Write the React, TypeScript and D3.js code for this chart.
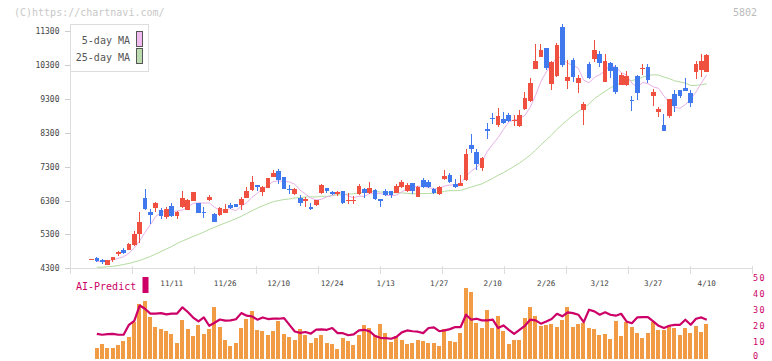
import React from 'react';
import * as d3 from 'd3';

const dates = [
  '10/20','10/21','10/22','10/23','10/24','10/27','10/28','10/29','10/30','10/31',
  '11/4','11/5','11/6','11/7','11/10','11/11','11/12','11/13','11/14','11/17','11/18','11/19','11/20','11/21','11/25','11/26','11/27','11/28',
  '12/1','12/2','12/3','12/4','12/5','12/8','12/9','12/10','12/11','12/12','12/15','12/16','12/17','12/18','12/19','12/22','12/23','12/24','12/25','12/26','12/29','12/30',
  '1/5','1/6','1/7','1/8','1/9','1/13','1/14','1/15','1/16','1/19','1/20','1/21','1/22','1/23','1/26','1/27','1/28','1/29','1/30',
  '2/2','2/3','2/4','2/5','2/6','2/9','2/10','2/12','2/13','2/16','2/17','2/18','2/19','2/20','2/24','2/25','2/26','2/27',
  '3/2','3/3','3/4','3/5','3/6','3/9','3/10','3/11','3/12','3/13','3/16','3/17','3/18','3/19','3/23','3/24','3/25','3/26','3/27','3/30','3/31',
  '4/1','4/2','4/3','4/6','4/7','4/8','4/9','4/10',
];

const opens = [4560,4610,4545,4400,4535,4730,4840,4840,4985,5310,6385,5960,6080,6020,5815,6140,5850,6110,6030,6295,6225,5970,6325,5900,5870,5930,6165,6195,6165,6385,6610,6755,6550,6670,6995,7170,6995,6640,6490,6375,6285,6110,6165,6520,6670,6550,6490,6580,6285,6305,6490,6640,6520,6610,6345,6580,6580,6520,6700,6580,6815,6405,6905,6845,6640,6490,6935,7065,6785,6730,6905,7940,7730,7260,8410,8735,8530,8705,8825,8670,8500,9000,9235,10180,10535,10800,9735,9975,11420,9825,10445,9765,8970,10325,10475,10620,9795,10355,10240,9710,9710,9265,9975,10180,10240,9385,8910,8530,8795,9440,9560,9620,9470,10090,10150,10090];
const highs = [4570,4640,4560,4545,4640,4800,4910,5045,5400,5970,6650,6060,6265,6090,6110,6225,5980,6580,6345,6560,6235,6110,6460,5930,6110,6195,6225,6205,6405,6700,7025,6770,6730,6975,7200,7230,7000,6755,6670,6460,6405,6225,6325,6785,6680,6580,6580,6590,6520,6430,6785,6670,6845,6640,6350,6640,6590,6785,6905,6815,6830,6730,6965,6905,6670,6730,7200,7110,6935,7050,7820,8260,7820,7585,8585,8880,9030,8910,8880,8825,8970,9500,9915,10915,10915,10810,10415,10945,11505,10445,10505,10015,9205,10385,11035,10710,10620,10385,10300,10060,10120,9385,10000,10325,10325,9590,9060,8850,9300,9560,9570,9915,9560,10415,10620,10620];
const lows = [4555,4480,4420,4390,4500,4670,4730,4830,4965,5045,6030,5605,5970,5765,5755,5825,5755,6080,6010,6285,5930,5795,6295,5655,5845,5920,6050,6100,6020,6375,6590,6580,6440,6660,6985,6785,6630,6490,6460,6140,6110,6020,6140,6490,6520,6460,6430,6195,6195,6195,6460,6375,6490,6315,6110,6430,6375,6510,6670,6550,6490,6395,6670,6670,6490,6460,6905,6815,6670,6720,6875,7700,7200,7170,8115,8555,8470,8555,8615,8500,8470,8970,9205,10170,10530,10150,9560,9945,10240,9590,9795,9470,8530,9885,10385,10240,9790,9915,9440,9700,9680,8940,9265,10000,9765,9090,8765,8345,8735,8910,9325,9520,9060,9885,9945,10080];
const closes = [4565,4515,4495,4535,4635,4790,4750,5015,5310,5665,6050,5880,6235,5845,6060,5845,5970,6375,6315,6550,5940,5940,6405,5675,6080,6050,6080,6110,6355,6580,6845,6700,6700,6965,7110,6905,6640,6610,6640,6225,6345,6050,6315,6755,6580,6490,6550,6225,6315,6315,6730,6520,6670,6345,6285,6460,6460,6730,6845,6755,6580,6700,6700,6700,6520,6700,7025,6845,6700,6815,7670,7820,7375,7555,8350,8705,8795,8585,8645,8680,8825,9325,9765,10415,10740,10210,10385,10890,10300,9945,9945,9915,9145,9915,10740,10355,10415,10120,9500,10000,9975,9235,9470,10210,9855,9500,9000,8350,9295,9090,9385,9530,9175,10325,10415,10595];

const ma5 = [null,4500,4500,4520,4549,4594,4641,4745,4901,5107,5359,5585,5829,5935,6013,5972,5990,6018,6112,6211,6230,6224,6230,6102,6007,6029,6057,5998,6134,6234,6393,6517,6635,6757,6863,6875,6863,6846,6781,6604,6492,6374,6315,6338,6409,6439,6539,6521,6433,6380,6427,6421,6510,6515,6509,6456,6444,6456,6557,6651,6675,6722,6716,6686,6639,6663,6728,6757,6757,6816,7011,7170,7277,7448,7755,7961,8156,8398,8616,8682,8706,8812,9048,9402,9814,10091,10304,10528,10504,10345,10292,10198,9849,9773,9932,10014,10115,10309,10227,10079,10002,9766,9637,9778,9749,9655,9607,9383,9200,9047,9023,9129,9295,9501,9767,10009];
const ma25 = [null,4330,4333,4345,4360,4383,4413,4443,4487,4530,4590,4650,4722,4796,4870,4944,5032,5105,5170,5240,5300,5370,5445,5510,5577,5637,5699,5764,5837,5914,5997,6075,6142,6208,6266,6300,6330,6345,6377,6384,6404,6407,6405,6422,6423,6446,6470,6463,6489,6498,6525,6543,6565,6565,6553,6538,6528,6529,6525,6511,6498,6500,6503,6506,6518,6532,6571,6592,6590,6599,6646,6697,6743,6793,6874,6953,7044,7121,7213,7309,7403,7518,7639,7782,7941,8086,8234,8401,8545,8682,8812,8928,9020,9149,9306,9413,9517,9626,9704,9770,9821,9839,9874,9937,9984,10011,9998,9941,9896,9830,9797,9763,9695,9696,9715,9741];

const volume = [null,6.7,9.2,6.7,6.7,8.5,10.6,13.5,22.7,33.8,36,26,19.8,18.5,16.9,15.4,9.8,24.2,18.5,14.2,21,15.4,18.5,32.3,19.8,11.7,7.9,9.8,19.2,24.8,29.8,17.9,16.9,14.8,17.3,23.5,15.4,13.5,11.7,18.5,14.8,9.8,12.9,14.8,9.8,9.2,6,12.9,11,8.5,14.8,21,19.2,14.8,21.7,16,10.4,14,11.7,9.2,9.8,11.7,11,9.8,9.8,7.9,18.5,11,10.4,16,44.2,41.7,22.3,19.2,30.4,19.2,26.7,17.3,9.2,11.7,11.7,25.4,32.3,26.7,20.4,21,21.7,19.8,24.2,32.3,19.8,21.7,22.3,19.2,18.5,14.8,15.4,12.3,23.5,14.2,22.9,19.8,16,12.9,16,22.9,17.9,17.9,20.4,19.2,14.8,19.2,16,20.4,16.7,21.7];
const aiPredict = [null,15.4,14.8,15.2,15.4,14.8,14.8,21,23.5,33,31,28,28,28.3,27.5,28,28,31.9,29,25.5,23.1,25.6,20.4,22.3,24.3,23.6,23.8,24.5,28.3,26.7,26.3,24.2,25.6,24.6,24.8,24.8,25.2,21,16.8,16,16.5,15.5,18,18.1,17.9,19,15.8,15.8,14.5,15,17.5,17.9,16.9,14,12.9,12.7,12.3,13.5,16.3,17.5,17,16.7,15.8,19,19.4,17,17.5,18.3,19.6,19.6,27.3,24.2,24.8,23.8,23.8,24.2,19,20.6,17.9,15.4,17.9,20.4,24.2,23.8,21.7,23.1,24.6,27.9,26.3,28.8,28.3,27.3,22.7,30.4,29.4,27.3,28.8,27.3,26.7,27.9,23.1,22,25.6,25.8,25.8,23.1,20.4,19,20.4,21,21,24.2,21,24.8,25.6,24.2];

const tickLabels = ['11/11','11/26','12/10','12/24','1/13','1/27','2/10','2/26','3/12','3/27','4/10'];
const priceTicks = [4300,5300,6300,7300,8300,9300,10300,11300];
const volTicks = [0,10,20,30,40,50];

const MONO = "'DejaVu Sans Mono', 'Liberation Mono', monospace";
const RED = '#f05040';
const BLUE = '#4078ee';
const MAGENTA = '#cc0066';

export default function App() {
  const x = d3.scaleBand<string>().domain(dates).range([88.825, 709.425]).padding(0);
  const cx = (i: number) => (x(dates[i]) as number) + x.bandwidth() / 2;
  const y = d3.scaleLinear().domain([4300, 11300]).range([268.3, 31]);
  const yv = d3.scaleLinear().domain([0, 50]).range([358.5, 278.3]);
  const gridX = d3.scaleLinear().domain([0, 11]).range([70.3, 752.3]);
  const gridTicks = d3.range(0, 12);

  const priceLine = (arr: (number | null)[]) =>
    d3.line<number | null>()
      .defined((d) => d != null)
      .x((_, i) => cx(i))
      .y((d) => y(d as number))(arr) || '';
  const aiLine = d3.line<number | null>()
    .defined((d) => d != null)
    .x((_, i) => cx(i))
    .y((d) => yv(d as number))(aiPredict) || '';

  const bodyW = 4.7;
  const barW = 4;

  return (
    <svg width={772} height={361} style={{ position: 'absolute', left: 0, top: 0, background: '#fff' }}>
      <rect x={0} y={0} width={772} height={361} fill="#fff" />
      <text x={14} y={16} fontFamily={MONO} fontSize={10} fill="#c8c8c8">(C)https://chartnavi.com/</text>
      <text x={757} y={16} textAnchor="end" fontFamily={MONO} fontSize={10} fill="#bbbbbb">5802</text>

      {/* axes */}
      <line x1={70.5} x2={70.5} y1={24} y2={268.5} stroke="#dddddd" />
      <line x1={70} x2={752} y1={268.5} y2={268.5} stroke="#dddddd" />
      {gridTicks.map((k) => (
        <line key={'gt' + k} x1={Math.round(gridX(k)) + 0.5} x2={Math.round(gridX(k)) + 0.5} y1={266} y2={274} stroke="#dddddd" />
      ))}
      {priceTicks.map((p) => (
        <g key={'pt' + p}>
          <line x1={65} x2={70} y1={Math.round(y(p)) + 0.5} y2={Math.round(y(p)) + 0.5} stroke="#cccccc" />
          <text x={59.5} y={y(p) + 3} textAnchor="end" fontFamily={MONO} fontSize={8} fill="#444">{p}</text>
        </g>
      ))}
      {tickLabels.map((t) => (
        <text key={'xl' + t} x={cx(dates.indexOf(t))} y={285.5} textAnchor="middle" fontFamily={MONO} fontSize={7.6} fill="#444">{t}</text>
      ))}

      {/* moving averages */}
      <path d={priceLine(ma25)} fill="none" stroke="#b4dca0" strokeWidth={1} />
      <path d={priceLine(ma5)} fill="none" stroke="#e8b0e8" strokeWidth={1} />

      {/* candles */}
      <g shapeRendering="crispEdges">
        {dates.map((d, i) => {
          const o = opens[i], c = closes[i], h = highs[i], l = lows[i];
          const up = c >= o;
          const col = up ? RED : BLUE;
          const top = y(Math.max(o, c));
          const bot = y(Math.min(o, c));
          const xc = cx(i);
          return (
            <g key={'c' + i}>
              <rect x={xc - 0.5} y={y(h)} width={1} height={Math.max(1, y(l) - y(h))} fill={col} />
              <rect x={xc - bodyW / 2} y={top} width={bodyW} height={Math.max(1, bot - top)} fill={col} />
            </g>
          );
        })}
      </g>

      {/* legend */}
      <rect x={70.5} y={24.5} width={78} height={47} fill="#fff" stroke="#dddddd" />
      <text x={130} y={44} textAnchor="end" fontFamily={MONO} fontSize={10} fill="#555">5-day MA</text>
      <text x={130} y={61} textAnchor="end" fontFamily={MONO} fontSize={10} fill="#555">25-day MA</text>
      <rect x={136.5} y={31.5} width={6} height={15} fill="#f0bcf0" stroke="#555" />
      <rect x={136.5} y={48.5} width={6} height={15} fill="#bcdcb0" stroke="#555" />

      {/* AI predict panel */}
      <text x={76} y={290} fontFamily={MONO} fontSize={10} fill={MAGENTA}>AI-Predict</text>
      <rect x={142.5} y={277} width={6} height={16} fill={MAGENTA} />
      <g shapeRendering="crispEdges">
        {volume.map((v, i) =>
          v == null ? null : (
            <rect key={'v' + i} x={cx(i) - barW / 2 - 0.3} y={yv(v)} width={barW} height={yv(0) - yv(v)} fill="#f29b45" />
          )
        )}
      </g>
      <path d={aiLine} fill="none" stroke={MAGENTA} strokeWidth={2.2} strokeLinejoin="round" />
      {volTicks.map((v) => (
        <text key={'vt' + v} x={753} y={Math.min(yv(v) + 2.3, 358.6)} fontFamily={MONO} fontSize={8.5} letterSpacing={1.5} fill={MAGENTA}>{v}</text>
      ))}
    </svg>
  );
}
